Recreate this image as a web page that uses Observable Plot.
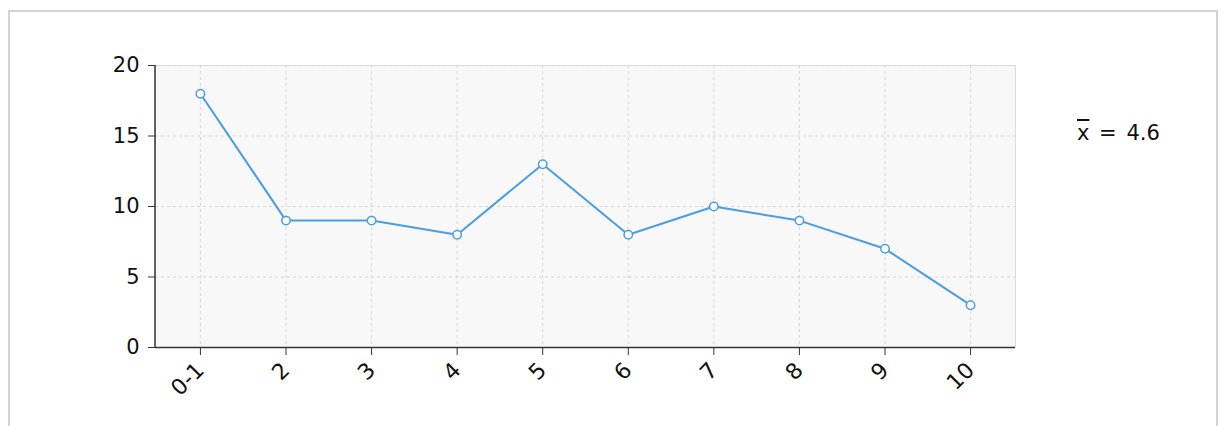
<!DOCTYPE html>
<html>
<head>
<meta charset="utf-8">
<script src="https://cdn.jsdelivr.net/npm/d3@7"></script>
<script src="https://cdn.jsdelivr.net/npm/@observablehq/plot@0.6"></script>
<style>
  html, body { margin: 0; padding: 0; background: #fff; }
  #wrap { position: relative; width: 1228px; height: 426px; overflow: hidden; }
  #border { position: absolute; left: 8px; top: 10px; width: 1210px; height: 440px; border: 2px solid #d4d4d4; box-sizing: border-box; }
  #chart { position: absolute; left: 0; top: 0; }
  #mean { position: absolute; left: 1077px; top: 121px; font-family: "DejaVu Sans", sans-serif; font-size: 21px; color: #111; word-spacing: 3px; }
  #mean .bar { text-decoration: overline; }
</style>
</head>
<body>
<div id="wrap">
  <div id="border"></div>
  <div id="chart"></div>
  <div id="mean"><span class="bar">x</span> = <span id="meanval"></span></div>
</div>
<script>
const categories = ["0-1", "2", "3", "4", "5", "6", "7", "8", "9", "10"];
const counts = [18, 9, 9, 8, 13, 8, 10, 9, 7, 3];
const yTicks = [0, 5, 10, 15, 20];
const meanLabel = "4.6";

const data = categories.map((c, i) => ({cat: c, n: counts[i]}));
const lineColor = "#4a9de2";

const leftAxisLine = (index, scales, values, dim) => {
  const ns = "http://www.w3.org/2000/svg";
  const l = document.createElementNS(ns, "line");
  l.setAttribute("x1", dim.marginLeft);
  l.setAttribute("x2", dim.marginLeft);
  l.setAttribute("y1", dim.marginTop);
  l.setAttribute("y2", dim.height - dim.marginBottom);
  l.setAttribute("stroke", "#333");
  l.setAttribute("stroke-width", "1.5");
  return l;
};

const chart = Plot.plot({
  width: 1228,
  height: 426,
  marginLeft: 155,
  marginRight: 213,
  marginTop: 65,
  marginBottom: 79,
  style: { fontFamily: "DejaVu Sans, sans-serif", fontSize: "21px", color: "#111", background: "transparent" },
  x: { type: "point", domain: categories, padding: 0.525, round: false, label: null },
  y: { domain: [0, 20], label: null },
  marks: [
    Plot.frame({ fill: "#f8f8f8", stroke: "#dcdcdc" }),
    Plot.gridX({ stroke: "#d8d8d8", strokeOpacity: 1, strokeDasharray: "3,3" }),
    Plot.gridY(yTicks, { stroke: "#d8d8d8", strokeOpacity: 1, strokeDasharray: "3,3" }),
    Plot.ruleY([0], { stroke: "#333", strokeWidth: 1.5 }),
    leftAxisLine,
    Plot.axisY(yTicks, { tickSize: 7, tickPadding: 9, stroke: "#333", fontSize: 21 }),
    Plot.axisX({ tickSize: 8, tickRotate: -45, tickPadding: 11, stroke: "#333", fontSize: 22 }),
    Plot.line(data, { x: "cat", y: "n", stroke: lineColor, strokeWidth: 2 }),
    Plot.dot(data, { x: "cat", y: "n", r: 4.2, fill: "#fff", stroke: lineColor, strokeWidth: 1.5 })
  ]
});
document.getElementById("chart").appendChild(chart);
document.getElementById("meanval").textContent = meanLabel;
</script>
</body>
</html>
